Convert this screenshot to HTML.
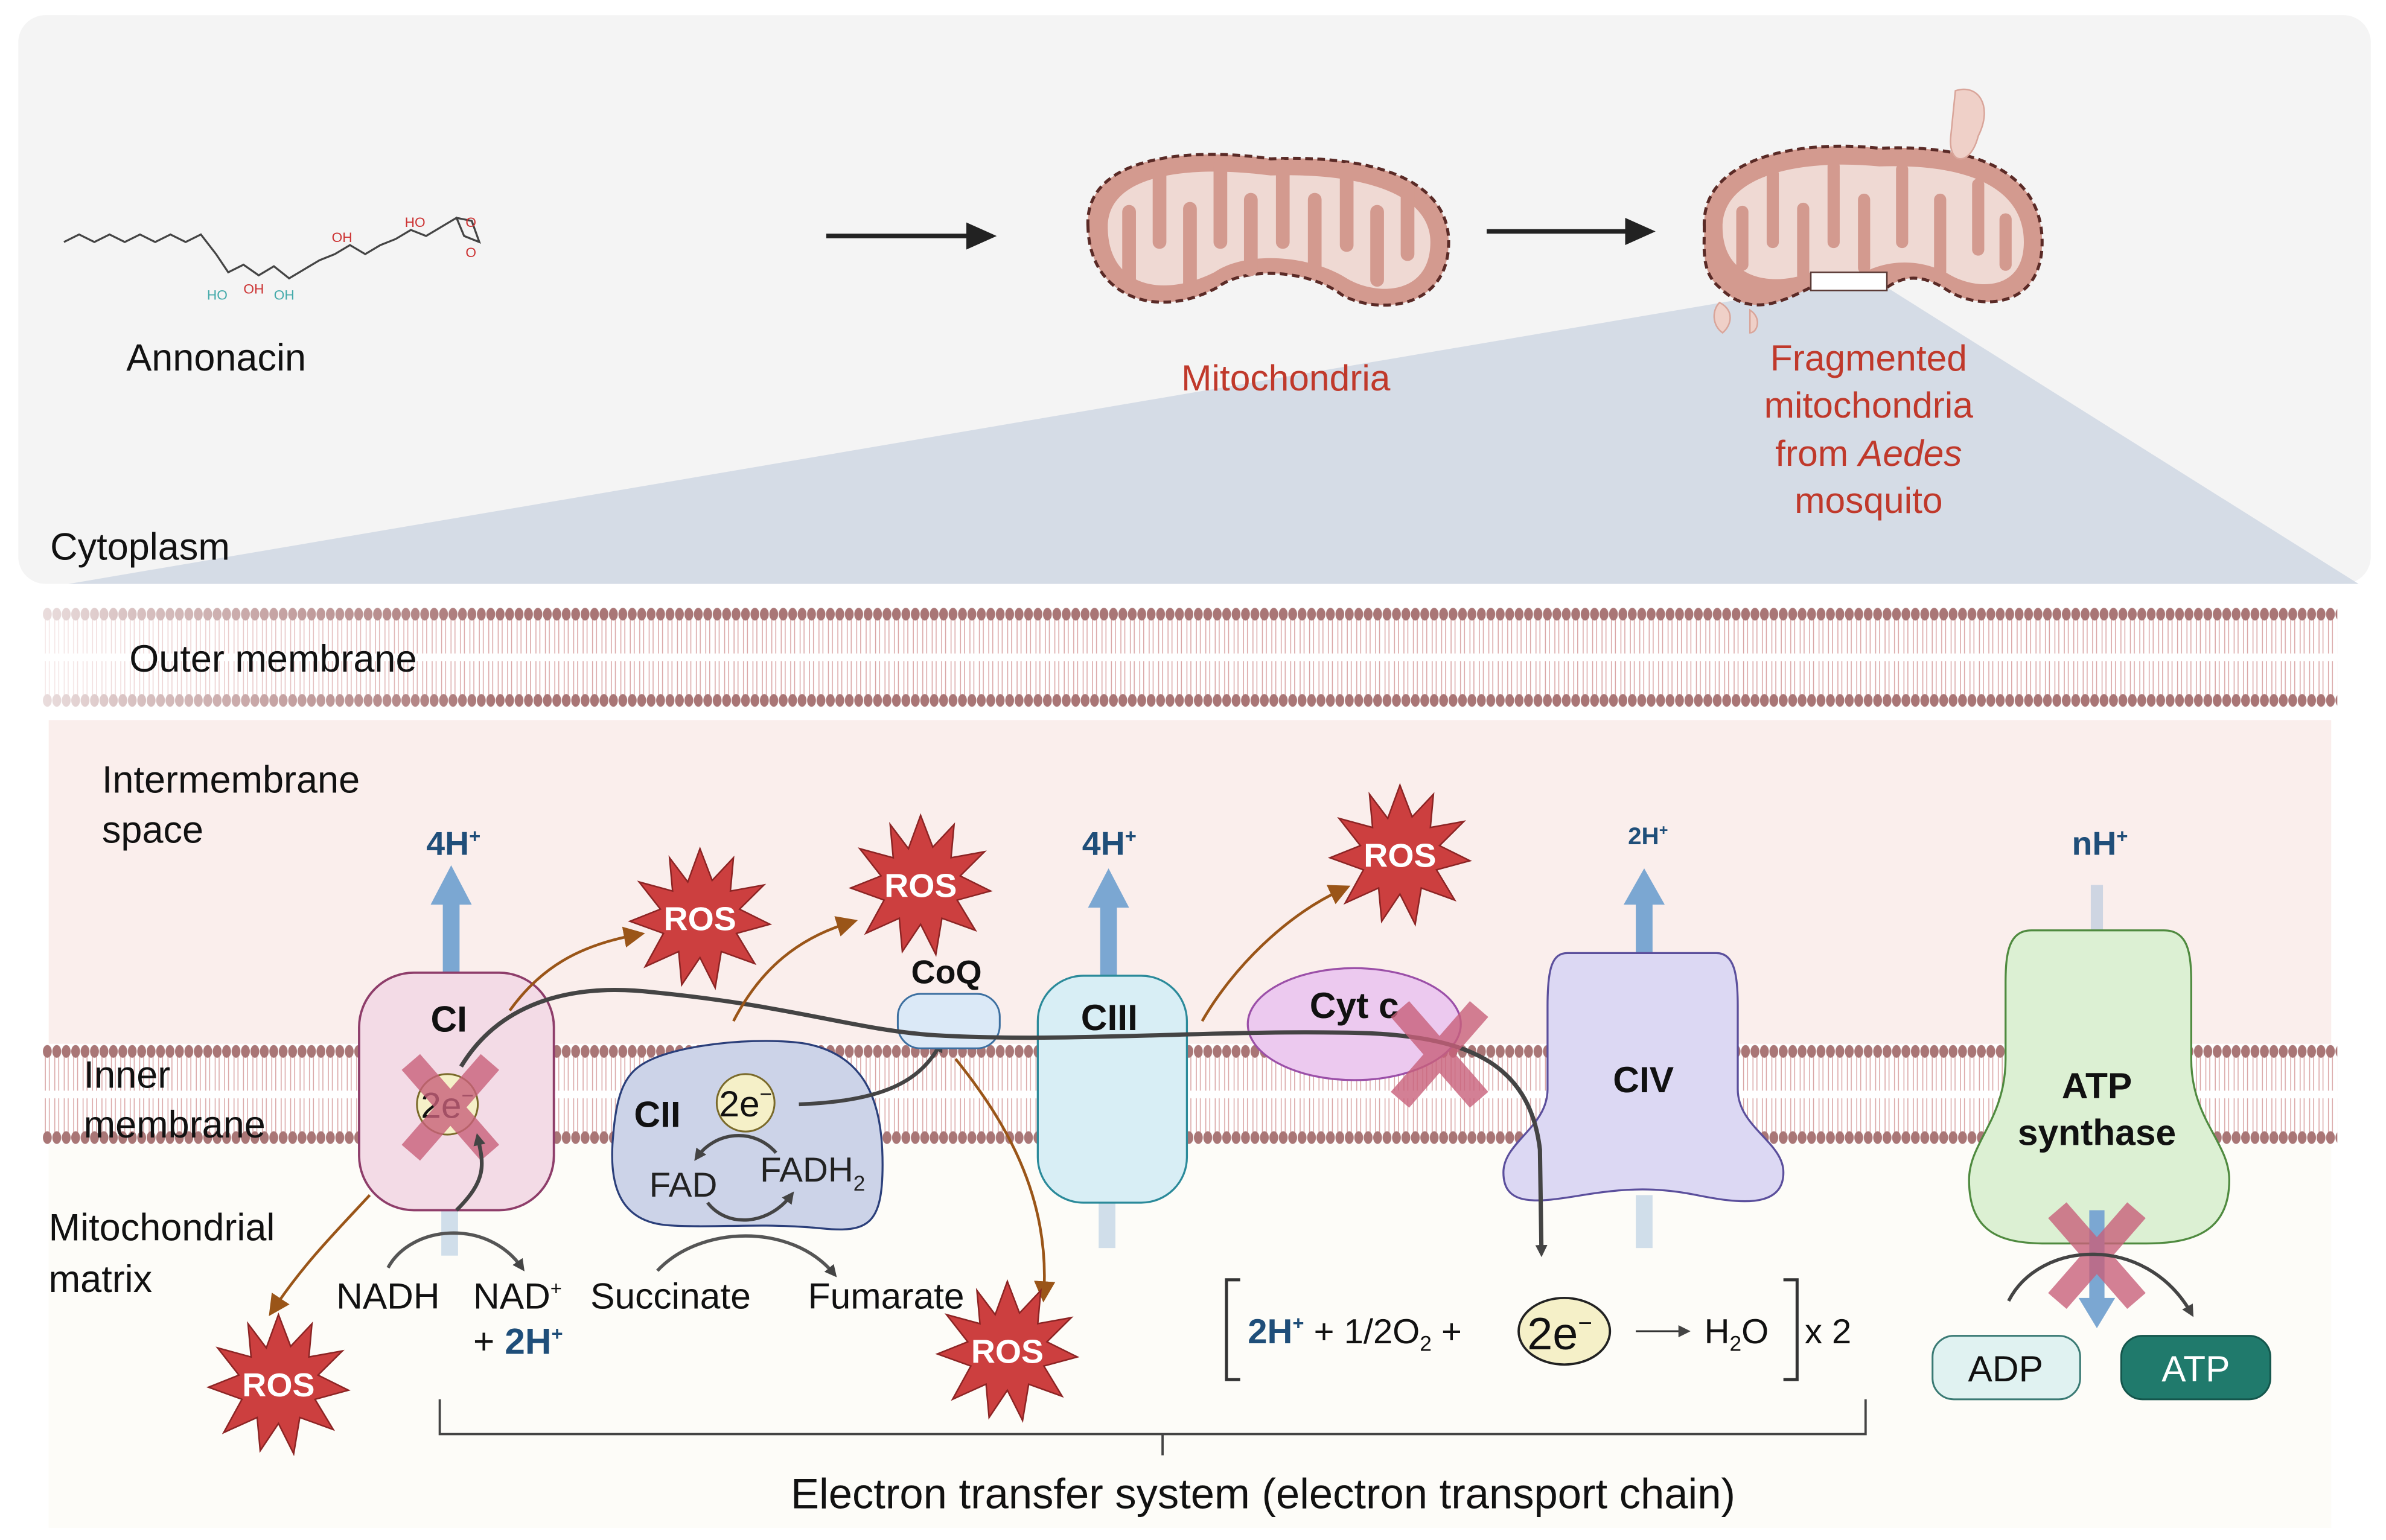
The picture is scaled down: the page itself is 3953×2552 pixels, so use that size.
<!DOCTYPE html>
<html><head><meta charset="utf-8"><style>
html,body{margin:0;padding:0;background:#fff}
svg{display:block}
text{font-family:"Liberation Sans",Arial,sans-serif}
</style></head><body>
<svg width="3953" height="2552" viewBox="0 0 1568 1018" preserveAspectRatio="none" xmlns="http://www.w3.org/2000/svg">
<defs>
<pattern id="mem" x="0" y="0" width="6.2" height="70" patternUnits="userSpaceOnUse">
<line x1="1.8" y1="8" x2="1.8" y2="31" stroke="#d9a5a5" stroke-width="0.6"/>
<line x1="4.4" y1="8" x2="4.4" y2="31" stroke="#d9a5a5" stroke-width="0.6"/>
<line x1="1.8" y1="36" x2="1.8" y2="59" stroke="#d9a5a5" stroke-width="0.6"/>
<line x1="4.4" y1="36" x2="4.4" y2="59" stroke="#d9a5a5" stroke-width="0.6"/>
<ellipse cx="3.1" cy="5" rx="2.9" ry="4.2" fill="#a97676"/>
<ellipse cx="3.1" cy="62" rx="2.9" ry="4.2" fill="#a97676"/>
</pattern>
<linearGradient id="fade" x1="0" x2="1"><stop offset="0" stop-color="#fff" stop-opacity="0.75"/><stop offset="0.2" stop-color="#fff" stop-opacity="0.55"/><stop offset="1" stop-color="#fff" stop-opacity="0"/></linearGradient>
<marker id="ak" markerWidth="8" markerHeight="8" refX="5" refY="4" orient="auto" markerUnits="userSpaceOnUse"><path d="M0,0 L8,4 L0,8 Z" fill="#444"/></marker>
<marker id="ab" markerWidth="14" markerHeight="14" refX="8" refY="7" orient="auto" markerUnits="userSpaceOnUse"><path d="M0,0 L14,7 L0,14 Z" fill="#9a5518"/></marker>
<marker id="ablk" markerWidth="20" markerHeight="18" refX="10" refY="9" orient="auto" markerUnits="userSpaceOnUse"><path d="M0,0 L20,9 L0,18 Z" fill="#222"/></marker>
<g id="ros">
<polygon points="0,-46 8,-25 22,-40 20,-18 42,-22 26,-6 46,4 24,10 36,30 14,22 10,46 0,26 -12,44 -14,22 -36,32 -24,10 -46,2 -26,-6 -40,-24 -18,-18 -20,-40 -8,-24" fill="#cc3f3f" stroke="#8c2424" stroke-width="1"/>
<text x="0" y="8" text-anchor="middle" font-size="22" font-weight="bold" fill="#fff">ROS</text>
</g>
<g id="xx"><path d="M-22,-30 L30,30 M30,-30 L-22,30" stroke="#c8607a" stroke-width="16" stroke-opacity="0.8"/></g>
</defs>

<rect width="1568" height="1018" fill="#fff"/>
<rect x="12" y="10" width="1546" height="376" rx="18" fill="#f4f4f4"/>
<polygon points="45,386 1190,190 1240,190 1550,386" fill="#d5dce6"/>

<polyline points="42,160 52,155 62,160 72,155 82,160 92,155 102,160 112,155 122,160 132,155 142,168 150,180 160,175 170,182 180,176 190,184 200,178 210,172 220,168 230,162 240,168 250,162 260,158 270,152 280,156 290,150 300,144 305,156 315,160 310,146 300,144" fill="none" stroke="#444" stroke-width="1.3"/>
<text x="218" y="160" font-size="9" fill="#c33">OH</text><text x="266" y="150" font-size="9" fill="#c33">HO</text>
<text x="136" y="198" font-size="9" fill="#4aa">HO</text><text x="160" y="194" font-size="9" fill="#c33">OH</text><text x="180" y="198" font-size="9" fill="#4aa">OH</text>
<text x="306" y="150" font-size="9" fill="#c33">O</text><text x="306" y="170" font-size="9" fill="#c33">O</text>
<text x="83" y="245" font-size="25" fill="#111">Annonacin</text>

<line x1="543" y1="156" x2="645" y2="156" stroke="#222" stroke-width="3" marker-end="url(#ablk)"/>
<line x1="977" y1="153" x2="1078" y2="153" stroke="#222" stroke-width="3" marker-end="url(#ablk)"/>

<g>
<path d="M715,150 C712,100 790,98 835,105 C905,102 952,120 952,160 C952,205 905,208 882,195 C860,178 818,176 800,190 C760,212 716,196 715,150 Z" fill="#d39a8f" stroke="#5a2a26" stroke-width="2" stroke-dasharray="5,3"/>
<path d="M728,150 C728,112 790,110 835,116 C900,114 940,130 940,160 C940,195 905,196 885,184 C860,168 818,166 798,180 C762,198 728,188 728,150 Z" fill="#efd9d3"/>
<g stroke="#d39a8f" stroke-width="9" stroke-linecap="round" fill="none">
<path d="M742,185 V140"/><path d="M762,112 V160"/><path d="M782,188 V138"/><path d="M802,110 V160"/><path d="M822,178 V132"/><path d="M843,110 V160"/><path d="M864,178 V132"/><path d="M885,112 V162"/><path d="M905,185 V140"/><path d="M925,125 V168"/>
</g>
</g>
<text x="845" y="258" text-anchor="middle" font-size="24" fill="#c0392b">Mitochondria</text>

<g>
<path d="M1120,150 C1118,105 1180,92 1235,98 C1300,95 1342,115 1342,160 C1342,205 1300,205 1280,192 C1262,180 1250,183 1240,190 L1190,190 C1170,200 1150,210 1130,190 C1118,180 1120,165 1120,150 Z" fill="#d39a8f" stroke="#5a2a26" stroke-width="2" stroke-dasharray="5,3"/>
<path d="M1132,150 C1132,115 1185,105 1235,110 C1295,108 1330,125 1330,160 C1330,192 1300,192 1282,182 C1262,170 1240,172 1225,180 L1190,180 C1165,190 1132,185 1132,150 Z" fill="#efd9d3"/>
<g stroke="#d39a8f" stroke-width="8" stroke-linecap="round" fill="none">
<path d="M1145,175 V140"/><path d="M1165,115 V160"/><path d="M1185,182 V138"/><path d="M1205,110 V160"/><path d="M1225,177 V132"/><path d="M1250,112 V160"/><path d="M1275,180 V132"/><path d="M1300,122 V165"/><path d="M1318,175 V145"/>
</g>
<path d="M1285,60 C1300,55 1310,70 1300,90 C1295,110 1280,110 1282,90 Z M1130,200 C1140,205 1138,215 1132,220 C1125,215 1125,205 1130,200 Z M1150,205 C1158,210 1155,220 1150,220 Z" fill="#efd0c8" stroke="#d9a59a"/>
<rect x="1190" y="180" width="50" height="12" fill="#fff" stroke="#5a3a36" stroke-width="1"/>
</g>
<g font-size="24" fill="#c0392b" text-anchor="middle">
<text x="1228" y="245">Fragmented</text><text x="1228" y="276">mitochondria</text>
<text x="1228" y="308">from <tspan font-style="italic">Aedes</tspan></text><text x="1228" y="339">mosquito</text>
</g>
<text x="33" y="370" font-size="25" fill="#111">Cytoplasm</text>

<g transform="translate(28,401)">
<rect x="0" y="0" width="1508" height="67" fill="url(#mem)"/>
<rect x="0" y="-3" width="300" height="73" fill="url(#fade)"/>
</g>
<text x="85" y="444" font-size="25" fill="#111">Outer membrane</text>

<rect x="32" y="476" width="1500" height="215" fill="#faeeec"/>
<rect x="32" y="755" width="1500" height="255" fill="#fdfcf8"/>
<rect x="28" y="690" width="1508" height="66" fill="#fff"/>
<g transform="translate(28,690)"><rect x="0" y="0" width="1508" height="67" fill="url(#mem)"/></g>
<text x="67" y="524" font-size="25" fill="#111">Intermembrane</text>
<text x="67" y="557" font-size="25" fill="#111">space</text>
<text x="55" y="719" font-size="25" fill="#111">Inner</text>
<text x="55" y="752" font-size="25" fill="#111">membrane</text>
<text x="32" y="820" font-size="25" fill="#111">Mitochondrial</text>
<text x="32" y="854" font-size="25" fill="#111">matrix</text>

<g fill="#7ba7d2">
<rect x="291" y="595" width="11" height="50"/><polygon points="283,598 310,598 296.5,572"/>
<rect x="290" y="795" width="11" height="35" opacity="0.35"/>
<rect x="723" y="598" width="11" height="50"/><polygon points="715,600 742,600 728.5,574"/>
<rect x="722" y="790" width="11" height="35" opacity="0.35"/>
<rect x="1075" y="595" width="11" height="37"/><polygon points="1067,598 1094,598 1080.5,574"/>
<rect x="1075" y="790" width="11" height="35" opacity="0.35"/>
<rect x="1374" y="585" width="8" height="35" opacity="0.35"/>
</g>
<g font-weight="bold" fill="#1f4e79" text-anchor="middle">
<text x="298" y="565" font-size="22">4H<tspan font-size="13" dy="-8">+</tspan></text>
<text x="729" y="565" font-size="22">4H<tspan font-size="13" dy="-8">+</tspan></text>
<text x="1083" y="558" font-size="16">2H<tspan font-size="10" dy="-6">+</tspan></text>
<text x="1380" y="565" font-size="22">nH<tspan font-size="13" dy="-8">+</tspan></text>
</g>

<rect x="236" y="643" width="128" height="157" rx="36" fill="#f3dbe6" stroke="#8e3d6a" stroke-width="1.5"/>
<text x="295" y="682" text-anchor="middle" font-size="24" font-weight="bold" fill="#111">CI</text>
<circle cx="294" cy="730" r="20" fill="#f5f0c8" stroke="#7a6a2a" stroke-width="1.2"/>
<text x="294" y="739" text-anchor="middle" font-size="24" fill="#111">2e<tspan font-size="14" dy="-10">−</tspan></text>
<use href="#xx" x="292" y="732"/>
<path d="M300,800 C320,780 318,770 314,752" stroke="#444" stroke-width="2.5" fill="none" marker-end="url(#ak)"/>

<path d="M420,705 C440,690 500,685 530,690 C570,698 580,730 580,770 C580,810 570,815 540,812 C500,808 470,812 440,810 C405,808 400,780 403,750 C405,725 410,712 420,705 Z" fill="#ccd3e8" stroke="#2b3f7a" stroke-width="1.3"/>
<text x="432" y="745" text-anchor="middle" font-size="24" font-weight="bold" fill="#111">CII</text>
<circle cx="490" cy="729" r="19" fill="#f5f0c8" stroke="#7a6a2a" stroke-width="1.2"/>
<text x="490" y="738" text-anchor="middle" font-size="24" fill="#111">2e<tspan font-size="14" dy="-10">−</tspan></text>
<text x="449" y="791" text-anchor="middle" font-size="23" fill="#222">FAD</text>
<text x="534" y="781" text-anchor="middle" font-size="23" fill="#222">FADH<tspan font-size="14" dy="6">2</tspan></text>
<path d="M510,762 C495,745 470,748 458,765" stroke="#444" stroke-width="2.2" fill="none" marker-end="url(#ak)"/>
<path d="M465,795 C478,812 505,810 520,790" stroke="#444" stroke-width="2.2" fill="none" marker-end="url(#ak)"/>
<path d="M525,730 C580,728 605,715 618,690" stroke="#444" stroke-width="2.5" fill="none" marker-end="url(#ak)"/>

<rect x="590" y="657" width="67" height="36" rx="15" fill="#dbe9f7" stroke="#3c6fa0" stroke-width="1.2"/>
<text x="622" y="650" text-anchor="middle" font-size="22" font-weight="bold" fill="#111">CoQ</text>

<rect x="682" y="645" width="98" height="150" rx="30" fill="#d8eef5" stroke="#2b8a9a" stroke-width="1.3"/>
<text x="729" y="681" text-anchor="middle" font-size="24" font-weight="bold" fill="#111">CIII</text>

<ellipse cx="890" cy="677" rx="70" ry="37" fill="#ecc9ef" stroke="#9b4fa8" stroke-width="1.3"/>
<text x="890" y="673" text-anchor="middle" font-size="24" font-weight="bold" fill="#111">Cyt c</text>

<path d="M1030,630 L1128,630 C1140,630 1142,645 1142,665 L1142,720 C1142,745 1172,755 1172,775 C1172,800 1140,795 1115,790 C1090,785 1070,785 1040,790 C1010,795 988,798 988,775 C988,755 1017,745 1017,720 L1017,665 C1017,640 1020,630 1030,630 Z" fill="#dcd8f3" stroke="#5b4f9c" stroke-width="1.3"/>
<text x="1080" y="722" text-anchor="middle" font-size="24" font-weight="bold" fill="#111">CIV</text>

<path d="M303,705 C330,660 380,650 430,656 C520,665 560,680 610,684 C700,690 800,680 900,683 C960,686 1005,700 1012,760 L1013,828" stroke="#444" stroke-width="2.8" fill="none" marker-end="url(#ak)"/>
<use href="#xx" x="942" y="697"/>

<path d="M1335,615 L1422,615 C1438,615 1440,630 1440,650 L1440,700 C1440,740 1465,755 1465,780 C1465,815 1440,822 1410,822 L1345,822 C1315,822 1294,815 1294,780 C1294,755 1318,740 1318,700 L1318,650 C1318,630 1320,615 1335,615 Z" fill="#dcf0d3" stroke="#4f8a3f" stroke-width="1.3"/>
<text x="1378" y="726" text-anchor="middle" font-size="24" font-weight="bold" fill="#111">ATP</text>
<text x="1378" y="757" text-anchor="middle" font-size="24" font-weight="bold" fill="#111">synthase</text>
<rect x="1373" y="800" width="10" height="60" fill="#7ba7d2"/><polygon points="1366,858 1390,858 1378,878" fill="#7ba7d2"/>
<use href="#xx" x="1374" y="830"/>
<path d="M1320,860 C1340,820 1410,815 1440,868" stroke="#444" stroke-width="2.2" fill="none" marker-end="url(#ak)"/>
<rect x="1270" y="883" width="97" height="42" rx="14" fill="#e0f2f1" stroke="#3a7a74" stroke-width="1.2"/>
<text x="1318" y="913" text-anchor="middle" font-size="24" fill="#111">ADP</text>
<rect x="1394" y="883" width="98" height="42" rx="14" fill="#207a6c" stroke="#14564c" stroke-width="1.2"/>
<text x="1443" y="913" text-anchor="middle" font-size="24" fill="#fff">ATP</text>

<g stroke="#9a5518" stroke-width="1.8" fill="none">
<path d="M335,668 C355,640 380,625 418,618" marker-end="url(#ab)"/>
<path d="M482,675 C500,640 525,620 558,610" marker-end="url(#ab)"/>
<path d="M790,675 C810,640 845,605 882,588" marker-end="url(#ab)"/>
<path d="M243,790 C220,815 200,835 180,865" marker-end="url(#ab)"/>
<path d="M628,700 C660,740 690,790 686,855" marker-end="url(#ab)"/>
</g>
<use href="#ros" x="460" y="607"/>
<use href="#ros" x="605" y="585"/>
<use href="#ros" x="920" y="565"/>
<use href="#ros" x="183" y="915"/>
<use href="#ros" x="662" y="893"/>

<path d="M255,838 C270,810 320,805 343,838" stroke="#555" stroke-width="2.2" fill="none" marker-end="url(#ak)"/>
<path d="M432,840 C460,810 520,808 548,842" stroke="#555" stroke-width="2.2" fill="none" marker-end="url(#ak)"/>
<g font-size="24" fill="#111">
<text x="221" y="865">NADH</text>
<text x="311" y="865">NAD<tspan font-size="13" dy="-9">+</tspan></text>
<text x="311" y="895">+ <tspan font-weight="bold" fill="#1f4e79">2H<tspan font-size="13" dy="-9">+</tspan></tspan></text>
<text x="388" y="865">Succinate</text>
<text x="531" y="865">Fumarate</text>
</g>

<path d="M815,846 L806,846 L806,912 L815,912" stroke="#333" stroke-width="2" fill="none"/>
<path d="M1172,846 L1181,846 L1181,912 L1172,912" stroke="#333" stroke-width="2" fill="none"/>
<text x="820" y="888" font-size="23" fill="#111"><tspan font-weight="bold" fill="#1f4e79">2H<tspan font-size="13" dy="-9">+</tspan></tspan><tspan dy="9"> + 1/2O</tspan><tspan font-size="14" dy="5">2</tspan><tspan dy="-5"> +</tspan></text>
<ellipse cx="1028" cy="880" rx="30" ry="22" fill="#f5f0c8" stroke="#222" stroke-width="1.5"/>
<text x="1025" y="892" text-anchor="middle" font-size="30" fill="#111">2e<tspan font-size="16" dy="-12">−</tspan></text>
<line x1="1075" y1="880" x2="1108" y2="880" stroke="#333" stroke-width="1.2" marker-end="url(#ak)"/>
<text x="1120" y="888" font-size="23" fill="#111">H<tspan font-size="14" dy="5">2</tspan><tspan dy="-5">O</tspan></text>
<text x="1186" y="888" font-size="23" fill="#111">x 2</text>

<path d="M289,925 L289,948 L1226,948 L1226,925 M764,948 L764,962" stroke="#444" stroke-width="1.5" fill="none"/>
<text x="830" y="997" text-anchor="middle" font-size="28" fill="#111">Electron transfer system (electron transport chain)</text>
</svg>
</body></html>
